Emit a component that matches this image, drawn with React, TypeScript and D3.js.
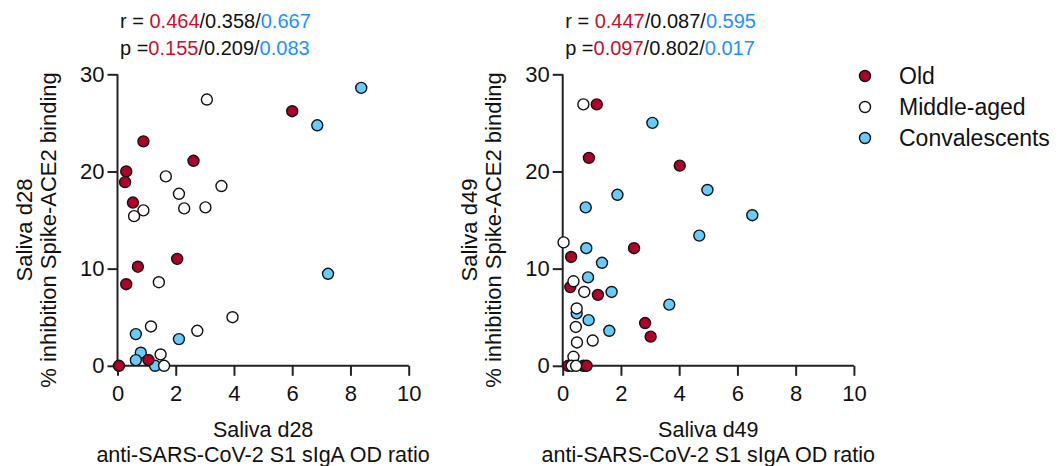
import React, { useEffect, useRef } from "react";
import * as d3 from "d3";

// data: [x = sIgA OD ratio, y = % inhibition]
const d28Old = [
  [6.0, 26.2], [0.89, 23.1], [2.61, 21.1], [0.3, 20.0], [0.26, 18.9], [0.53, 16.8],
  [0.7, 10.2], [2.05, 11.0], [0.3, 8.4], [0.05, 0], [1.06, 0.6],
];
const d28Middle = [
  [3.07, 27.4], [1.66, 19.5], [3.57, 18.5], [2.11, 17.7], [2.29, 16.2], [3.02, 16.3],
  [0.89, 16.0], [0.57, 15.4], [1.42, 8.6], [3.95, 5.0], [2.74, 3.6], [1.15, 4.05],
  [1.48, 1.17], [1.6, 0],
];
const d28Conv = [
  [8.37, 28.6], [6.86, 24.75], [7.23, 9.47], [0.63, 3.26], [2.11, 2.75], [0.8, 1.35],
  [0.63, 0.58], [1.29, 0],
];
const d49Old = [
  [1.17, 26.9], [0.9, 21.4], [4.02, 20.6], [2.45, 12.1], [0.29, 11.2], [0.26, 8.1],
  [1.21, 7.3], [2.83, 4.4], [3.02, 3.0], [0.19, 0], [0.71, 0], [0.82, 0],
];
const d49Middle = [
  [0.71, 26.9], [0.03, 12.7], [0.37, 8.7], [0.74, 7.6], [0.48, 5.9], [0.45, 4.0],
  [0.49, 2.4], [1.03, 2.6], [0.37, 0.93], [0.31, 0], [0.46, 0],
];
const d49Conv = [
  [3.08, 25.0], [4.97, 18.1], [1.88, 17.6], [0.79, 16.3], [6.51, 15.5], [4.69, 13.4],
  [0.81, 12.1], [1.35, 10.6], [0.87, 9.1], [1.68, 7.6], [3.66, 6.3], [0.48, 5.4],
  [0.89, 4.7], [1.6, 3.6],
];

const groups = ["Old", "Middle-aged", "Convalescents"];
const groupFill = ["#b0002a", "#ffffff", "#66ccff"];
const statColor = ["#c8102e", "#111111", "#1e90ff"];

const d28R = ["0.464", "0.358", "0.667"];
const d28P = ["0.155", "0.209", "0.083"];
const d49R = ["0.447", "0.087", "0.595"];
const d49P = ["0.097", "0.802", "0.017"];

const panels = [
  { day: "d28", left: 117.5, series: [d28Old, d28Middle, d28Conv], r: d28R, p: d28P },
  { day: "d49", left: 562.7, series: [d49Old, d49Middle, d49Conv], r: d49R, p: d49P },
];

const font = "'Liberation Sans', Arial, sans-serif";

export default function App() {
  const svgRef = useRef<SVGSVGElement>(null);

  useEffect(() => {
    const svg = d3.select(svgRef.current);
    svg.selectAll("*").remove();

    const plotW = 291.2;
    const top = 74.3;
    const bottom = 365.8;

    panels.forEach((panel) => {
      const x = d3.scaleLinear().domain([0, 10]).range([panel.left, panel.left + plotW]);
      const y = d3.scaleLinear().domain([0, 30]).range([bottom, top]);
      const g = svg.append("g");

      const xAxis = g
        .append("g")
        .attr("transform", `translate(0,${bottom})`)
        .call(d3.axisBottom(x).tickValues([0, 2, 4, 6, 8, 10]).tickSize(10).tickPadding(10));
      const yAxis = g
        .append("g")
        .attr("transform", `translate(${panel.left},0)`)
        .call(d3.axisLeft(y).tickValues([0, 10, 20, 30]).tickSize(10).tickPadding(3));

      [xAxis, yAxis].forEach((ax) => {
        ax.select(".domain").attr("stroke", "#222").attr("stroke-width", 2);
        ax.selectAll(".tick line").attr("stroke", "#222").attr("stroke-width", 2);
        ax.selectAll(".tick text")
          .attr("fill", "#111")
          .style("font-family", font)
          .style("font-size", "22px");
      });
      // remove outer ticks of the domain path
      xAxis.select(".domain").attr("d", `M${panel.left},0H${panel.left + plotW}`);
      yAxis.select(".domain").attr("d", `M0,${bottom}V${top}`);

      // x title
      const cx = panel.left + plotW / 2;
      g.append("text")
        .attr("x", cx)
        .attr("y", 437)
        .attr("text-anchor", "middle")
        .style("font-family", font)
        .style("font-size", "21.5px")
        .attr("fill", "#111")
        .text(`Saliva ${panel.day}`);
      g.append("text")
        .attr("x", cx)
        .attr("y", 461.5)
        .attr("text-anchor", "middle")
        .style("font-family", font)
        .style("font-size", "21.5px")
        .attr("fill", "#111")
        .text("anti-SARS-CoV-2 S1 sIgA OD ratio");

      // y title
      const off = panel.left - 117.5;
      [
        [32 + off, `Saliva ${panel.day}`],
        [56 + off, "% inhibition Spike-ACE2 binding"],
      ].forEach(([bx, t]) => {
        g.append("text")
          .attr("transform", `translate(${bx},230) rotate(-90)`)
          .attr("text-anchor", "middle")
          .style("font-family", font)
          .style("font-size", "22px")
          .attr("fill", "#111")
          .text(t as string);
      });

      // stats
      [
        ["r = ", panel.r, 28.3],
        ["p =", panel.p, 55],
      ].forEach(([label, vals, by]) => {
        const t = g
          .append("text")
          .attr("x", panel.left + 2.5)
          .attr("y", by as number)
          .style("font-family", font)
          .style("font-size", "20px")
          .attr("fill", "#111");
        t.append("tspan").text(label as string);
        (vals as string[]).forEach((v, i) => {
          if (i > 0) t.append("tspan").attr("fill", "#111").text("/");
          t.append("tspan").attr("fill", statColor[i]).text(v);
        });
      });

      // points: convalescents first, then old, then middle-aged on top
      [2, 0, 1].forEach((gi) => {
        g.append("g")
          .selectAll("circle")
          .data(panel.series[gi])
          .enter()
          .append("circle")
          .attr("cx", (d) => x(d[0]))
          .attr("cy", (d) => y(d[1]))
          .attr("r", 5.5)
          .attr("fill", groupFill[gi])
          .attr("stroke", "#111")
          .attr("stroke-width", 1.4);
      });
    });

    // legend
    const legend = svg.append("g").attr("transform", "translate(865,76)");
    groups.forEach((name, i) => {
      const row = legend.append("g").attr("transform", `translate(0,${i * 31})`);
      row.append("circle")
        .attr("r", 5.5)
        .attr("fill", groupFill[i])
        .attr("stroke", "#111")
        .attr("stroke-width", 1.4);
      row.append("text")
        .attr("x", 34)
        .attr("y", 8)
        .style("font-family", font)
        .style("font-size", "23px")
        .attr("fill", "#111")
        .text(name);
    });
  }, []);

  return (
    <svg
      ref={svgRef}
      width={1058}
      height={466}
      style={{ position: "absolute", left: 0, top: 0, background: "#fff" }}
    />
  );
}
